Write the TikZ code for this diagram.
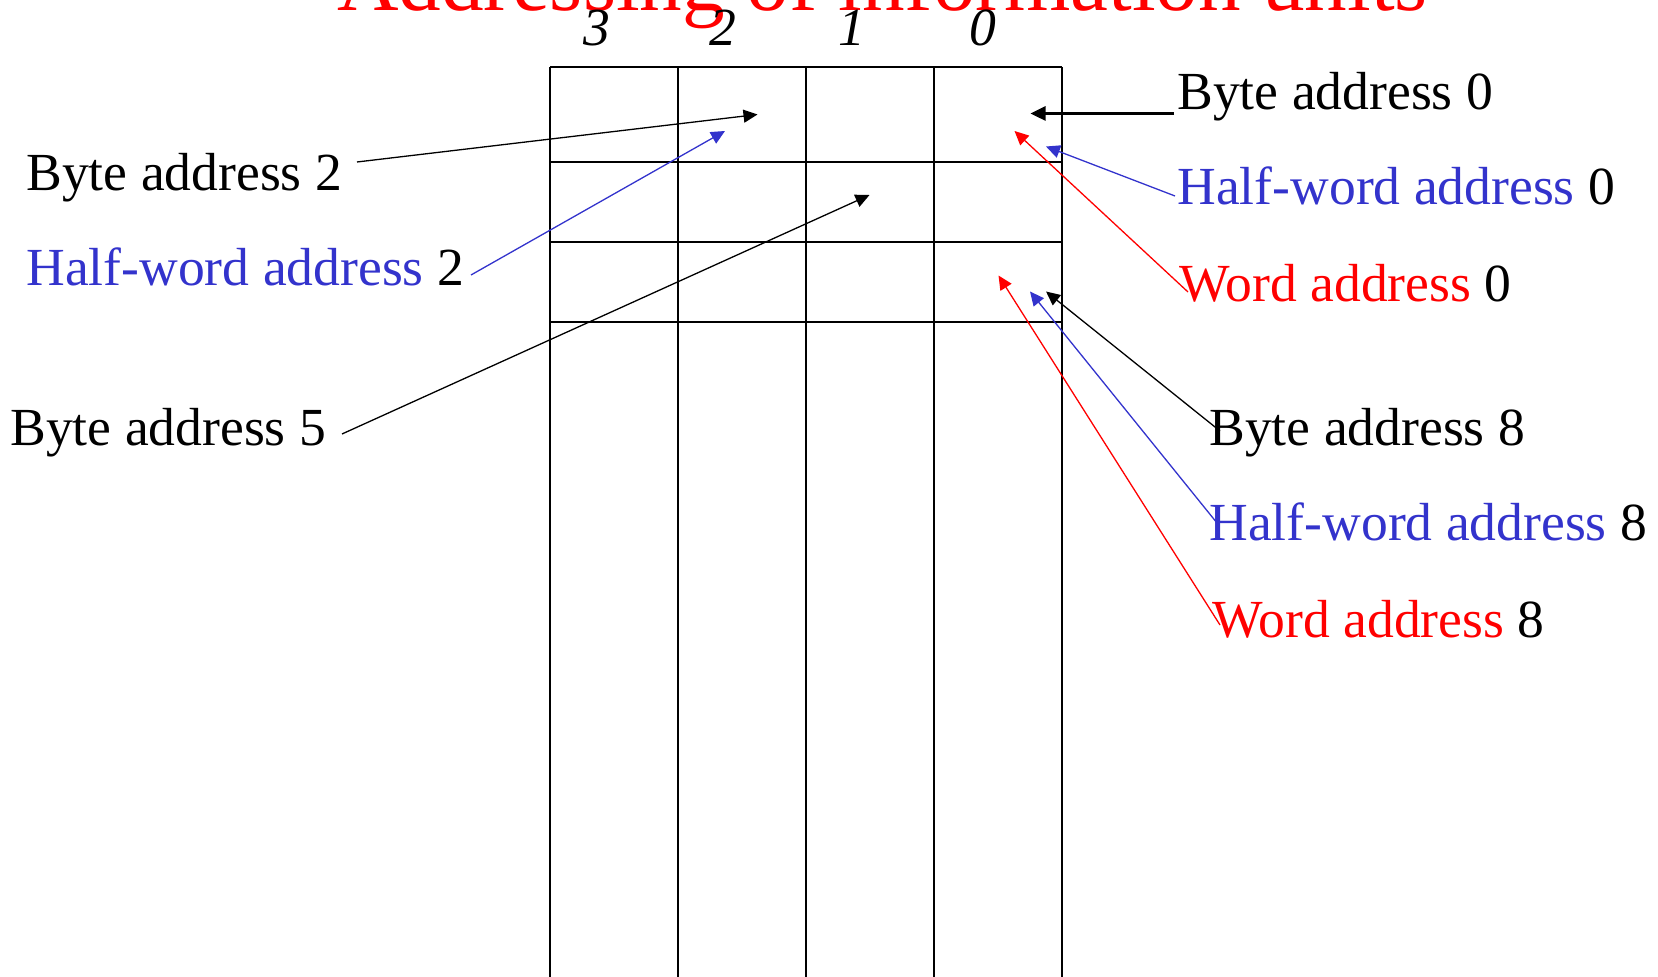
\documentclass[tikz,border=0pt]{standalone}
\usepackage{fontspec}
\setmainfont{Liberation Serif}
\usetikzlibrary{arrows.meta}
\definecolor{hwblue}{RGB}{51,51,204}
\definecolor{wred}{RGB}{255,0,0}
\begin{document}
\begin{tikzpicture}[x=0.5pt,y=-0.5pt,
  lbl/.style={anchor=base west, inner sep=0pt, font=\fontsize{26.8}{30}\selectfont},
  collbl/.style={anchor=base, inner sep=0pt, font=\fontsize{26.8}{30}\selectfont\itshape},
  gridline/.style={line width=1.1pt},
  ptr/.style={line width=0.65pt, -{Triangle[length=7pt,width=6.5pt]}},
  ptrthick/.style={line width=1.3pt, -{Triangle[length=7.5pt,width=7pt]}},
]
\useasboundingbox (0,0) rectangle (1658,977);
\clip (0,0) rectangle (1658,977);

% title (cut off at the top)
\node[anchor=base, inner sep=0pt, text=wred, font=\fontsize{42.6}{48}\selectfont] (title) at (882.5,10.5) {Addressing of information units};

% memory grid
\foreach \x in {550,678,806,934,1062} \draw[gridline] (\x,67) -- (\x,1000);
\foreach \y in {67,162,242,322} \draw[gridline] (550,\y) -- (1062,\y);

% column numbers
\node[collbl] (c3) at (597,45.5) {3};
\node[collbl] (c2) at (723,45.5) {2};
\node[collbl] (c1) at (852,45.5) {1};
\node[collbl] (c0) at (983,45.5) {0};

% labels
\node[lbl] (b2)  at (26,190.5) {Byte address 2};
\node[lbl] (hw2) at (26,285.5) {\textcolor{hwblue}{Half-word address} 2};
\node[lbl] (b5)  at (10,445.5) {Byte address 5};
\node[lbl] (b0)  at (1177,109.5) {Byte address 0};
\node[lbl] (hw0) at (1177,204.5) {\textcolor{hwblue}{Half-word address} 0};
\node[lbl] (w0)  at (1179,301.5) {\textcolor{wred}{Word address} 0};
\node[lbl] (b8)  at (1209,445.5) {Byte address 8};
\node[lbl] (hw8) at (1209,540.5) {\textcolor{hwblue}{Half-word address} 8};
\node[lbl] (w8)  at (1212,637.5) {\textcolor{wred}{Word address} 8};

% connector ends
\coordinate (sb2) at (357,162);   \coordinate (tb2) at (757.5,114.5);
\coordinate (shw2) at (471,275);  \coordinate (thw2) at (725,131);
\coordinate (sb5) at (342,434);   \coordinate (tb5) at (869.5,195);
\coordinate (sb0) at (1174,113.5);\coordinate (tb0) at (1030.5,113.5);
\coordinate (shw0) at (1175,196); \coordinate (thw0) at (1046,146.5);
\coordinate (sw0) at (1188,292);  \coordinate (tw0) at (1014.5,131);
\coordinate (sb8) at (1220,431);  \coordinate (tb8) at (1046,291.5);
\coordinate (shw8) at (1217,523); \coordinate (thw8) at (1030,291.5);
\coordinate (sw8) at (1220,625);  \coordinate (tw8) at (998.5,275.5);

% connectors
\draw[ptr] (sb2) -- (tb2);
\draw[ptr, hwblue] (shw2) -- (thw2);
\draw[ptr] (sb5) -- (tb5);
\draw[ptrthick] (sb0) -- (tb0);
\draw[ptr, hwblue] (shw0) -- (thw0);
\draw[ptr, wred] (sw0) -- (tw0);
\draw[ptr] (sb8) -- (tb8);
\draw[ptr, hwblue] (shw8) -- (thw8);
\draw[ptr, wred] (sw8) -- (tw8);
\end{tikzpicture}
\end{document}
